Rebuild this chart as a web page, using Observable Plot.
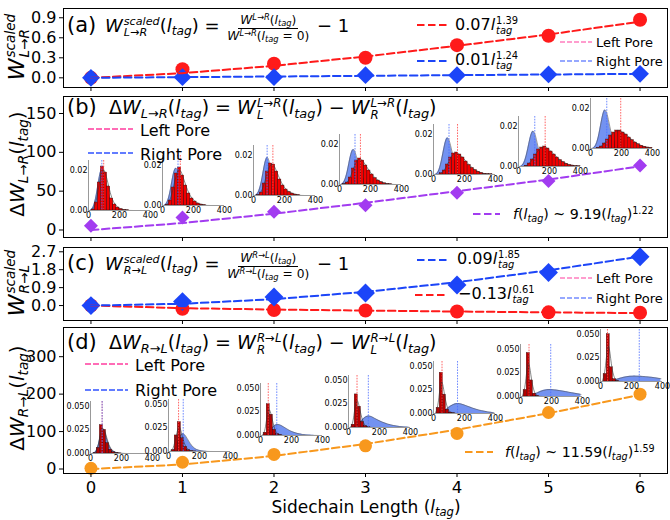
<!DOCTYPE html>
<html><head><meta charset="utf-8">
<script src="https://cdn.jsdelivr.net/npm/d3@7"></script>
<script src="https://cdn.jsdelivr.net/npm/@observablehq/plot@0.6"></script>
<style>
body{margin:0;background:#fff;}
#fig{position:relative;width:670px;height:520px;overflow:hidden;font-family:"DejaVu Sans",sans-serif;color:#000;background:#fff;}
#fig svg{position:absolute;left:0;top:0;overflow:visible;}
.t{position:absolute;white-space:nowrap;line-height:1;}
.t i,.rot i{font-style:italic;}
.ss{display:inline-flex;flex-direction:column;font-size:0.62em;line-height:1;vertical-align:0.6em;margin-left:1px;}
.fr{display:inline-flex;flex-direction:column;align-items:center;font-size:0.68em;line-height:1.15;vertical-align:0.62em;margin:0 2px;}
.fr>span:first-child{border-bottom:1px solid #000;padding:0 2px 1px;}
sub,sup{font-size:0.68em;line-height:0;}
sup{vertical-align:0.5em;} sub{vertical-align:-0.3em;}
.bl{display:inline-block;width:0;height:0;}
.rot{position:absolute;width:0;height:0;}
.rot>div{position:absolute;left:0;top:0;transform:translate(-50%,-50%) rotate(-90deg);white-space:nowrap;line-height:1;}
</style></head>
<body><div id="fig"></div>
<script>
// ---------------- data ----------------
const lTag = [0,1,2,3,4,5,6];
const aLeft = [0.00,0.13,0.21,0.30,0.49,0.63,0.87];
const aRight = [0.00,0.01,0.01,0.04,0.04,0.05,0.06];
const aLeftFit = [0.00,0.07,0.18,0.32,0.48,0.65,0.84];
const aRightFit = [0.00,0.01,0.02,0.03,0.04,0.05,0.06];
const bDelta = [5.6,16,23.5,32,48,63,83];
const bFit = [0,9,21,35,50,65,82];
const cRight = [0,0.2,0.43,0.63,1.03,1.66,2.45];
const cRightFit = [0,0.09,0.32,0.69,1.17,1.77,2.46];
const cLeft = [0,-0.16,-0.22,-0.25,-0.3,-0.34,-0.36];
const cLeftFit = [0,-0.13,-0.2,-0.25,-0.3,-0.34,-0.38];
const dDelta = [2,18,39,62,95,151,200];
const dFit = [0,12,35,67,105,149,198];

const aTicks = [0,0.3,0.6,0.9];
const bTicks = [0,50,100,150];
const cTicks = [0,0.9,1.8,2.7];
const dTicks = [0,100,200,300];

// inset histograms (density x 1e-3), bins of 20 over 0..400
const binStart = [0,20,40,60,80,100,120,140,160,180,200,220,240,260,280,300,320,340,360,380];
const binWidth = 20;
const bLeftHist = [
 [0,0.5,4,14,22,19,12,6,3,1.5,0.7,0.3,0.1,0,0,0,0,0,0,0],
 [0,0.3,2.5,9,16,19,15,10,6,3.5,2,1,0.5,0.2,0,0,0,0,0,0],
 [0,0.2,1.5,6,12,16,15.5,12,8,5,3,1.8,1,0.5,0.2,0,0,0,0,0],
 [0,0.1,1,3.5,8,12,13,12,9.5,7,5,3.2,2,1.2,0.6,0.3,0.1,0,0,0],
 [0,0,0.6,2,5,8.5,10.5,11,10,8.5,6.5,4.8,3.3,2.2,1.4,0.8,0.4,0.2,0.1,0],
 [0,0,0.4,1.5,3.5,6,8.5,9.5,10,9,7.5,6,4.5,3.2,2.2,1.4,0.8,0.5,0.2,0.1],
 [0,0,0.3,1,2.5,4.5,6.5,8,9,9,8,7,5.5,4.2,3,2.1,1.4,0.9,0.5,0.3]
];
const bRightHist = [
 [0,1,7,18,23,16,8,3.5,1.5,0.6,0.2,0,0,0,0,0,0,0,0,0],
 [0,1,7,17,20,14,8,3.5,1.5,0.6,0.2,0,0,0,0,0,0,0,0,0],
 [0,1,6,16,21,14,7,3,1.2,0.5,0.2,0,0,0,0,0,0,0,0,0],
 [0,1,6,15,19,14,7,3,1.2,0.5,0.2,0,0,0,0,0,0,0,0,0],
 [0,0.8,6,15,20,15,7.5,3,1.2,0.5,0.2,0,0,0,0,0,0,0,0,0],
 [0,0.7,5,13,19,16,8,3.5,1.3,0.5,0.2,0,0,0,0,0,0,0,0,0],
 [0,0.7,5,14,21,17,8.5,3.5,1.3,0.5,0.2,0,0,0,0,0,0,0,0,0]
];
const bLeftMean = [98,115,125,135,155,172,195];
const bRightMean = [86,100,88,100,100,105,105];

const dLeftHist = [
 [0,0.3,6,30,25,11,4,1.3,0.4,0.1,0,0,0,0,0,0,0,0,0,0],
 [0,1.5,17,31,14,5,1.5,0.4,0.1,0,0,0,0,0,0,0,0,0,0,0],
 [0,3,33,22,6,1.5,0.4,0,0,0,0,0,0,0,0,0,0,0,0,0],
 [0,3,35,22,6,1.5,0.4,0,0,0,0,0,0,0,0,0,0,0,0,0],
 [0,6,43,20,4,1,0.2,0,0,0,0,0,0,0,0,0,0,0,0,0],
 [0,7,46,17,3,0.6,0,0,0,0,0,0,0,0,0,0,0,0,0,0],
 [0,8,50,15,2.5,0.5,0,0,0,0,0,0,0,0,0,0,0,0,0,0]
];
const dRightHist = [
 [0,0.5,7,25,27,13,5,2,0.8,0.3,0.1,0,0,0,0,0,0,0,0,0],
 [0,0.5,5,15,20,17,11,6,3,1.5,0.7,0.3,0.1,0,0,0,0,0,0,0],
 [0,0.3,2.5,7,11,12,11,9,7,5,3.6,2.5,1.7,1.1,0.7,0.4,0.2,0.1,0,0],
 [0,0.2,1.5,4.5,8.5,11.5,12.5,11.5,9.5,7.8,6.2,4.9,3.8,2.9,2.1,1.5,1,0.7,0.4,0.2],
 [0,0.1,0.8,2.5,5.5,8,9.8,10.7,10.5,9.5,8.3,7,5.8,4.7,3.8,3,2.3,1.7,1.2,0.8],
 [0,0.1,0.4,1.2,2.5,4,5.5,6.6,7.3,7.4,7.2,6.8,6.3,5.8,5.2,4.6,4,3.4,2.8,2.2],
 [0,0.1,0.3,0.8,1.6,2.6,3.6,4.5,5.2,5.6,5.7,5.7,5.6,5.4,5.1,4.8,4.4,4,3.5,3]
];
const dLeftMean = [75,65,50,55,55,55,45];
const dRightMean = [75,95,105,128,155,195,250];

// ---------------- layout ----------------
const bInsetLeft = [88,162,253,339,433,518,590];
const bInsetBase = [210,205,195,184,174,166,148];
const dInsetLeft = [90,168,260,348,433,520,600];
const dInsetBase = [453,451,435,427,413,396,381];

const fig = document.getElementById("fig");
const FL = 63, FR = 667, XD = [-0.3, 6.3];
const RED = "#ff1a1a", BLUE = "#1c45f8", PURPLE = "#a23cf0", ORANGE = "#f8981d";
const DASH = "7.5,3.5";
const rowsOf = (ys) => lTag.map((x,i)=>({x, y: ys[i]}));

function panel(top, bottom, yDomain, ticks, fmt, showX, marks) {
  const p = Plot.plot({
    width: 670, height: 520,
    marginLeft: FL, marginRight: 670-FR, marginTop: top, marginBottom: 520-bottom,
    x: {domain: XD}, y: {domain: yDomain},
    style: {background: "transparent", fontFamily: "DejaVu Sans", overflow: "visible"},
    marks: [
      ...marks,
      Plot.frame({stroke: "#000", strokeWidth: 1}),
      Plot.axisY(ticks, {anchor: "left", tickSize: 4, tickPadding: 3, fontSize: 16, tickFormat: fmt, label: null}),
      Plot.axisX(lTag, {anchor: "bottom", tickSize: 4, tickPadding: 4, fontSize: 16.5, label: null,
        tickFormat: showX ? (d => String(d)) : (() => "")})
    ]
  });
  fig.appendChild(p);
}
const f1 = d3.format(".1f");
const dl = (ys, stroke) => Plot.line(rowsOf(ys), {x: "x", y: "y", stroke, strokeWidth: 2, strokeDasharray: DASH});
const circ = (ys, fill, r) => Plot.dot(rowsOf(ys), {x: "x", y: "y", r, fill, stroke: "none", symbol: "circle"});
const diam = (ys, fill, r) => Plot.dot(rowsOf(ys), {x: "x", y: "y", r, fill, stroke: "none", symbol: "diamond2"});

panel(8, 87, [-0.145, 1.039], aTicks, f1, false, [
  circ(aLeft, RED, 7), diam(aRight, BLUE, 8), dl(aLeftFit, RED), dl(aRightFit, BLUE)
]);
panel(96, 237, [-9.66, 171.9], bTicks, d => String(d), false, [
  diam(bDelta, PURPLE, 6.3), dl(bFit, PURPLE)
]);
panel(247, 320, [-0.75, 2.915], cTicks, f1, false, [
  circ(cLeft, RED, 7), diam(cRight, BLUE, 8.5), dl(cLeftFit, RED), dl(cRightFit, BLUE)
]);
panel(327, 473, [-12, 378], dTicks, d => String(d), true, [
  circ(dDelta, ORANGE, 6.5), dl(dFit, ORANGE)
]);

// ---------------- insets ----------------
function inset(left, base, h, yMax, ticks, fmt, redFill, red, blue, redMean, blueMean) {
  const mL = 30, mR = 14, mT = 3, mB = 12, w = 62;
  const rows = arr => binStart.map((s,i) => ({x0: s, x1: s + binWidth, xc: s + binWidth/2, v: arr[i]*1e-3}));
  const R = rows(red), B = rows(blue);
  const p = Plot.plot({
    width: mL+w+mR, height: mT+h+mB, marginLeft: mL, marginRight: mR, marginTop: mT, marginBottom: mB,
    x: {domain: [0,400]}, y: {domain: [0,yMax]},
    style: {background: "transparent", fontFamily: "DejaVu Sans", overflow: "visible"},
    marks: [
      Plot.areaY(B, {x: "xc", y: "v", fill: "#5b7fee", fillOpacity: 0.85, curve: "basis"}),
      Plot.lineY(B, {x: "xc", y: "v", stroke: "#555", strokeWidth: 0.6, curve: "basis"}),
      Plot.rect(R.filter(d => d.v > 0), {x1: "x0", x2: "x1", y1: 0, y2: "v", fill: redFill, stroke: "#200", strokeWidth: 0.35}),
      Plot.lineY(R, {x: "xc", y: "v", stroke: "#333", strokeWidth: 0.6, curve: "basis"}),
      Plot.ruleX([redMean], {stroke: "#ff4040", strokeWidth: 0.8, strokeDasharray: "1.6,1.2"}),
      Plot.ruleX([blueMean], {stroke: "#4a6cff", strokeWidth: 0.8, strokeDasharray: "1.6,1.2"}),
      Plot.ruleX([0], {stroke: "#999", strokeWidth: 1}),
      Plot.ruleY([0], {stroke: "#999", strokeWidth: 1}),
      Plot.axisY(ticks, {anchor: "left", tickSize: 0, tickPadding: 1, fontSize: 8, tickFormat: fmt, label: null}),
      Plot.axisX([0,200,400], {anchor: "bottom", tickSize: 0, tickPadding: 1.5, fontSize: 8, label: null, tickFormat: d => String(d)})
    ]
  });
  p.style.left = (left - mL) + "px";
  p.style.top = (base - h - mT) + "px";
  fig.appendChild(p);
}
const f2 = d3.format(".2f"), f3 = d3.format(".3f");
lTag.forEach((l, i) => {
  inset(bInsetLeft[i], bInsetBase[i], 50, 0.025, [0, 0.02], f2, "#f00000", bLeftHist[i], bRightHist[i], bLeftMean[i], bRightMean[i]);
  inset(dInsetLeft[i], dInsetBase[i], 52, 0.055, [0, 0.025, 0.05], f3, "#b80000", dLeftHist[i], dRightHist[i], dLeftMean[i], dRightMean[i]);
});

// ---------------- legend lines ----------------
const ov = d3.select(fig).append("svg").attr("width", 670).attr("height", 520);
function lg(x1, x2, y, stroke, w, dash) {
  ov.append("line").attr("x1", x1).attr("x2", x2).attr("y1", y).attr("y2", y)
    .attr("stroke", stroke).attr("stroke-width", w).attr("stroke-dasharray", dash);
}
const PINK = "#ff3d9e", PBLUE = "#2f52ff";
lg(417, 449, 25, RED, 2, DASH); lg(417, 449, 61, BLUE, 2, DASH);
lg(560, 592, 42, PINK, 1.2, "5,2"); lg(560, 592, 61, PBLUE, 1.2, "5,2");
lg(88, 133, 129, PINK, 1.5, "6,2"); lg(88, 133, 153, PBLUE, 1.5, "6,2");
lg(473, 500, 214, PURPLE, 2, DASH);
lg(417, 449, 260, BLUE, 2, DASH); lg(415, 447, 295, RED, 2, DASH);
lg(560, 592, 278, PINK, 1.2, "5,2"); lg(560, 592, 298, PBLUE, 1.2, "5,2");
lg(85, 128, 364, PINK, 1.5, "6,2"); lg(85, 128, 390, PBLUE, 1.5, "6,2");
lg(465, 493, 452, ORANGE, 2, DASH);

// ---------------- text ----------------
function txt(html, x, baseline, size, center) {
  const d = document.createElement("div");
  d.className = "t";
  d.style.left = x + "px"; d.style.top = "0px"; d.style.fontSize = size + "px";
  d.innerHTML = html + '<span class="bl"></span>';
  fig.appendChild(d);
  const r = d.getBoundingClientRect();
  const off = d.querySelector(".bl").getBoundingClientRect().bottom - r.top;
  d.style.top = (baseline - off) + "px";
  if (center) d.style.left = (x - r.width/2) + "px";
}
function rot(html, cx, cy, size) {
  const w = document.createElement("div");
  w.className = "rot"; w.style.left = cx + "px"; w.style.top = cy + "px";
  w.innerHTML = `<div style="font-size:${size}px">${html}</div>`;
  fig.appendChild(w);
}
const I = s => `<i>${s}</i>`;
const LT = `(${I("l")}<sub>${I("tag")}</sub>)`;
const LR = `${I("L")}→${I("R")}`, RL = `${I("R")}→${I("L")}`;
const ss = (up, dn) => `<span class="ss"><span>${up}</span><span>${dn}</span></span>`;
const frac = (a, b) => `<span class="fr"><span>${a}</span><span>${b}</span></span>`;
const scaledEq = (arr) => `${I("W")}${ss(I("scaled"), arr)}${LT} = ${frac(`${I("W")}<sup>${arr}</sup>${LT}`, `${I("W")}<sup>${arr}</sup>(${I("l")}<sub>${I("tag")}</sub> = 0)`)} − 1`;

txt("(a)", 67, 32, 21); txt(scaledEq(LR), 105, 32, 18);
txt("(b)", 67, 114, 21);
txt(`Δ${I("W")}<sub>${LR}</sub>${LT} = ${I("W")}${ss(LR, I("L"))}${LT} − ${I("W")}${ss(LR, I("R"))}${LT}`, 109, 114, 19);
txt("(c)", 67, 270, 21); txt(scaledEq(RL), 105, 270, 18);
txt("(d)", 67, 349, 21);
txt(`Δ${I("W")}<sub>${RL}</sub>${LT} = ${I("W")}${ss(RL, I("R"))}${LT} − ${I("W")}${ss(RL, I("L"))}${LT}`, 109, 349, 19);

const fitLab = (c, e) => `${c}${I("l")}${ss(e, I("tag"))}`;
txt(fitLab("0.07", "1.39"), 455, 30, 16); txt(fitLab("0.01", "1.24"), 455, 65, 16);
txt("Left Pore", 596, 46.5, 13); txt("Right Pore", 596, 65.5, 13);
txt("Left Pore", 140, 136, 16); txt("Right Pore", 140, 160, 16);
txt(`${I("f")}${LT} ~ 9.19${LT}<sup>1.22</sup>`, 513, 219, 14.2);
txt(fitLab("0.09", "1.85"), 457, 264, 16); txt(fitLab("−0.13", "0.61"), 458, 299, 16);
txt("Left Pore", 596, 282.5, 13); txt("Right Pore", 596, 302.5, 13);
txt("Left Pore", 135, 371, 16); txt("Right Pore", 135, 396, 16);
txt(`${I("f")}${LT} ~ 11.59${LT}<sup>1.59</sup>`, 505, 457, 14.2);
txt(`Sidechain Length ${LT}`, 366, 513, 17, true);

rot(`${I("W")}${ss(I("scaled"), LR)}`, 18, 47, 22);
rot(`Δ${I("W")}<sub>${LR}</sub>${LT}`, 17, 164, 20);
rot(`${I("W")}${ss(I("scaled"), RL)}`, 18, 283, 22);
rot(`Δ${I("W")}<sub>${RL}</sub>${LT}`, 17, 398, 20);
</script></body></html>
